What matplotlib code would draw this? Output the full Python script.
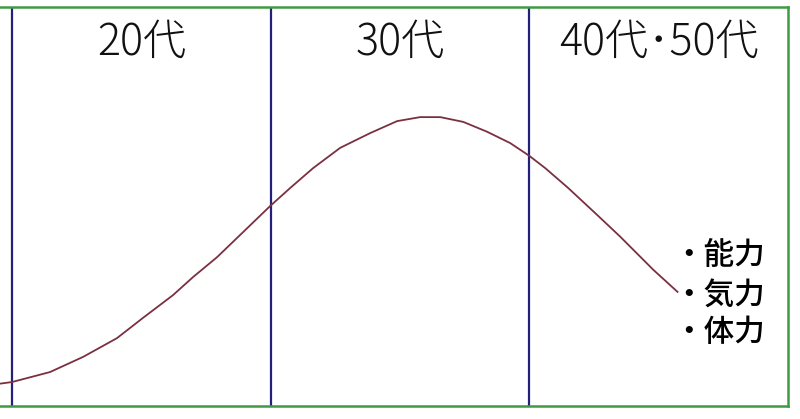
import matplotlib
matplotlib.use("Agg")
import matplotlib.pyplot as plt

plt.rcParams['font.family'] = ['Noto Sans CJK JP', 'DejaVu Sans']

# Curve (age in years, relative level 0-100)
ages = [19.54, 20.0, 21.47, 22.75, 24.06, 25.07, 26.23, 27.0, 27.93, 28.94, 29.98,
        30.75, 31.64, 32.69, 33.85, 34.89, 35.78, 36.56, 37.45, 38.38, 39.26, 40.0,
        40.62, 41.51, 42.67, 43.52, 44.8, 45.73]
level = [5.6, 6.0, 8.5, 12.3, 17.0, 22.1, 27.8, 32.3, 37.3, 43.6, 50.1,
         54.6, 59.6, 64.7, 68.4, 71.4, 72.4, 72.4, 71.2, 68.7, 65.9, 62.7,
         59.6, 54.6, 47.6, 42.4, 34.1, 28.6]

# Age-band boundaries and headers
boundaries = [20, 30, 40]
band_centers = [25, 35, 45]
band_labels = ['20代', '30代', '40代･50代']

# Right-hand notes
notes = ['・能力', '・気力', '・体力']
note_levels = [37.8, 27.8, 18.3]

fig = plt.figure(figsize=(8.0, 4.19), dpi=100)
ax = fig.add_axes([0.0, 13/419, 788/800, 399/419])
ax.set_xlim(19.54, 50.0)
ax.set_ylim(0, 100)

green = '#3f9a44'
for side in ['top', 'bottom', 'right']:
    ax.spines[side].set_color(green)
    ax.spines[side].set_linewidth(1.8)
ax.spines['left'].set_visible(False)
ax.set_xticks([])
ax.set_yticks([])

for b in boundaries:
    ax.axvline(b, color='#22207a', lw=1.6)

ax.plot(ages, level, color='#7a3040', lw=1.3)

for xc, lab in zip(band_centers, band_labels):
    ax.text(xc, 91.2, lab, ha='center', va='center', fontsize=31,
            color='#111111', fontweight='light')

for nl, txt in zip(note_levels, notes):
    ax.text(45.55, nl, txt, ha='left', va='center', fontsize=22,
            color='#000000', fontweight='medium')

fig.savefig('out.png', dpi=100)
